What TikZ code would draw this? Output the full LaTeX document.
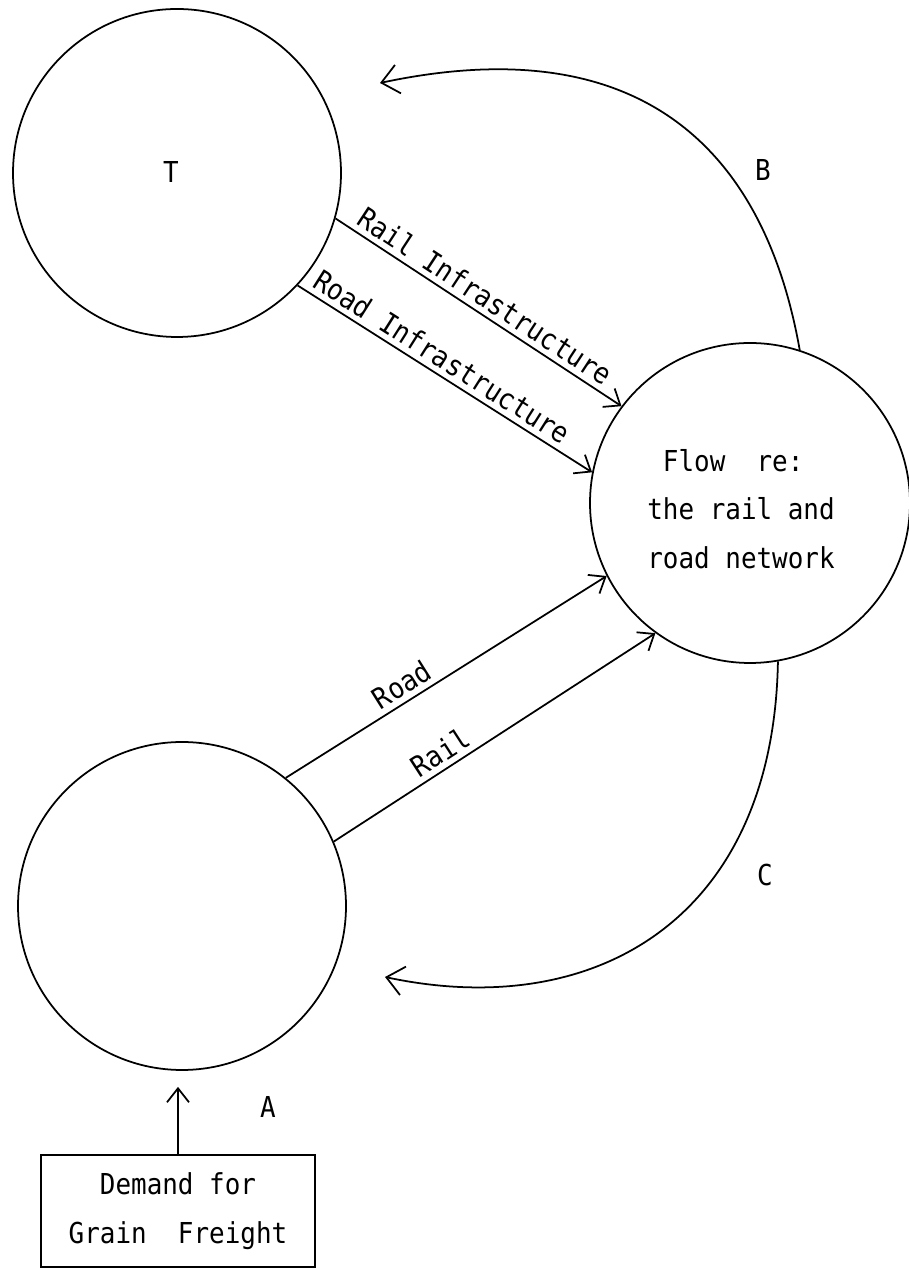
\documentclass[tikz,border=0pt]{standalone}
\usepackage{fontspec}
\setmonofont{DejaVu Sans Mono}[FakeStretch=0.9]
\usetikzlibrary{automata, positioning, arrows.meta}

\begin{document}
\begin{tikzpicture}[x=0.1mm, y=0.1mm, line width=0.5pt, auto, >={Straight Barb[length=1.4mm, width=2.2mm]},
    every node/.style={font=\ttfamily\fontsize{8.2}{13.75}\selectfont},
    every state/.style={minimum size=32.8mm, inner sep=0pt},
    bigtip/.style={-{Straight Barb[length=1.7mm, width=2.9mm]}}]
                \useasboundingbox (0,0) rectangle (909,1269);

                \node[state] (T) at (177,1096) {};
                \node (Ttext) at (171,1097) {T};
                \node[state, minimum size=32mm] (F) at (750,766) {};
                \node[align=left] (Ftext) at (741,760) {\phantom{F}Flow\ \ re:\\the rail and\\road network};
                \node[state] (A) at (182,363) {};
                \node[draw, minimum width=27.4mm, minimum height=11.2mm, align=center] (D) at (178,58) {Demand for\\Grain\ \ Freight};

                \node (labB) at (763,1099) {B};
                \node (labC) at (765,394) {C};
                \node (labA) at (268,162) {A};

                \coordinate (Bend) at (380,1186);
                \coordinate (Cend) at (385,292);

                \path[->]
                (T.-16) edge node[sloped, pos=0.49, inner sep=1.5pt] {Rail Infrastructure} (F.143)
                (T.-43) edge node[sloped, pos=0.46, inner sep=1.5pt] {Road Infrastructure} (F.169)
                (A.51) edge node[sloped, pos=0.39, inner sep=1.5pt] {Road} (F.207)
                (A.23) edge node[sloped, pos=0.36, inner sep=1.5pt] {Rail} (F.234)
                (F.72) edge [bigtip, out=100, in=12, out looseness=0.9, in looseness=1.5] (Bend)
                (F.-80) edge [bigtip, out=-91, in=-12, out looseness=1.3, in looseness=1.1] (Cend)
                (D.north) edge [shorten >=1.6mm] (D.north |- A.south);
            \end{tikzpicture}
\end{document}
